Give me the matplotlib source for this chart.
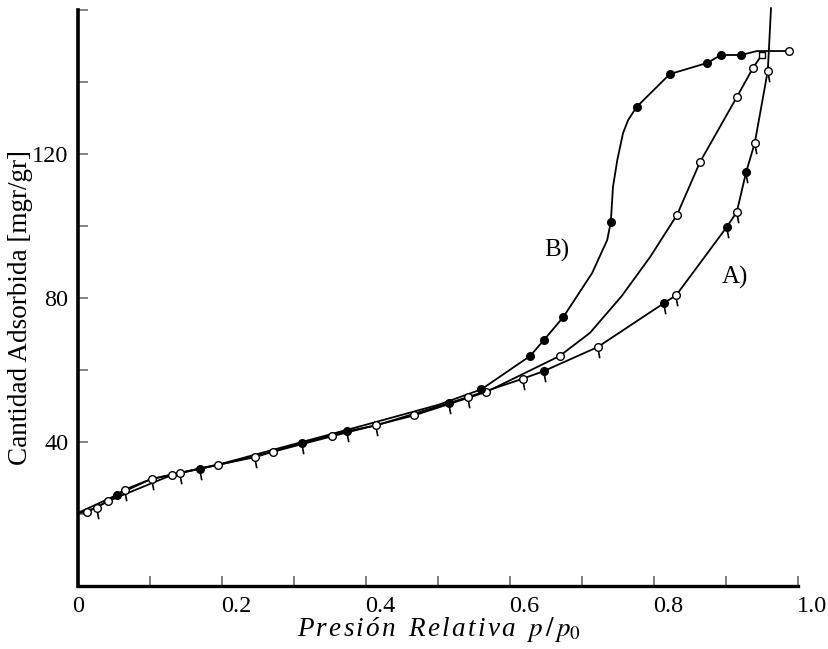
import numpy as np
import matplotlib.pyplot as plt
from matplotlib.path import Path
from matplotlib.transforms import ScaledTranslation

plt.rcParams['font.family'] = ['Liberation Serif', 'DejaVu Serif']
plt.rcParams['mathtext.fontset'] = 'stix'

# Curva A) - adsorcion (circulos abiertos con cola)
a_ads_x = [0.026, 0.065, 0.103, 0.142, 0.246, 0.414, 0.542, 0.618, 0.722, 0.831, 0.915, 0.940, 0.958]
a_ads_y = [21.7, 26.8, 29.8, 31.4, 35.8, 44.6, 52.5, 57.6, 66.4, 80.8, 103.9, 123.1, 143.1]
# Curva A) - desorcion (circulos llenos con cola)
a_des_x = [0.169, 0.311, 0.374, 0.515, 0.647, 0.814, 0.901, 0.928]
a_des_y = [32.6, 39.8, 43.0, 50.8, 59.7, 78.6, 99.7, 115.0]
# Curva B) - adsorcion (circulos abiertos)
b_ads_x = [0.0125, 0.042, 0.131, 0.194, 0.271, 0.353, 0.467, 0.567, 0.669, 0.832, 0.864, 0.915, 0.9375]
b_ads_y = [20.5, 23.6, 30.9, 33.6, 37.3, 41.6, 47.4, 53.9, 63.9, 103.1, 117.8, 135.8, 143.9]
# Curva B) - desorcion (circulos llenos)
b_des_x = [0.054, 0.560, 0.628, 0.647, 0.674, 0.740, 0.776, 0.822, 0.874, 0.893, 0.921]
b_des_y = [25.3, 54.6, 63.9, 68.3, 74.7, 101.1, 133.1, 142.2, 145.3, 147.5, 147.5]

# extra points (no markers there)
a_line_x = [0.0, 0.9595, 0.9625]
a_line_y = [20.3, 148.6, 160.5]
b_ads_line_x = [0.0, 0.711, 0.755, 0.795, 0.95]
b_ads_line_y = [20.3, 70.3, 80.5, 91.5, 147.6]
b_des_line_x = [0.0, 0.1, 0.2, 0.3, 0.4, 0.5, 0.714, 0.735, 0.743, 0.749, 0.757, 0.764, 0.943, 0.9875]
b_des_line_y = [20.3, 29.6, 34.0, 39.4, 44.8, 50.3, 86.9, 96.1, 110.8, 118.3, 125.8, 129.4, 148.6, 148.6]

# punto de saturacion
sat_x, sat_y = [0.95], [147.6]
end_x, end_y = [0.9875], [148.6]

x_ticks = [0, 0.1, 0.2, 0.3, 0.4, 0.5, 0.6, 0.7, 0.8, 0.9, 1.0]
x_labels = ['0', '', '0.2', '', '0.4', '', '0.6', '', '0.8', '', '1.0']
y_ticks = [20, 40, 60, 80, 100, 120, 140, 160]
y_labels = ['', '40', '', '80', '', '120', '', '']


def sorted_line(xs, ys):
    xs = np.array(xs)
    ys = np.array(ys)
    idx = np.argsort(xs)
    return xs[idx], ys[idx]


fig = plt.figure(figsize=(8.29, 6.49), dpi=100)
ax = fig.add_axes([78 / 829, 63 / 649, 720 / 829, 586 / 649])

lw = 1.3
lx, ly = sorted_line(a_ads_x + a_des_x + a_line_x, a_ads_y + a_des_y + a_line_y)
ax.plot(lx, ly, color='black', lw=lw, zorder=2, clip_on=False)
lx, ly = sorted_line(b_ads_x + b_ads_line_x, b_ads_y + b_ads_line_y)
ax.plot(lx, ly, color='black', lw=lw, zorder=2, clip_on=False)
lx, ly = sorted_line(b_des_x + b_des_line_x, b_des_y + b_des_line_y)
ax.plot(lx, ly, color='black', lw=lw, zorder=2, clip_on=False)

ms = 5.5
pip = Path([(0.0, -0.36), (0.12, -1.0)])

# open circles
ax.plot(a_ads_x, a_ads_y, ls='none', marker='o', ms=ms, mfc='white', mec='black', mew=1.0, zorder=3)
ax.plot(b_ads_x, b_ads_y, ls='none', marker='o', ms=ms, mfc='white', mec='black', mew=1.0, zorder=3)
ax.plot(end_x, end_y, ls='none', marker='o', ms=ms, mfc='white', mec='black', mew=1.0, zorder=3, clip_on=False)
ax.plot(sat_x, sat_y, ls='none', marker='s', ms=5, mfc='white', mec='black', mew=1.0, zorder=3)
# filled circles
ax.plot(a_des_x, a_des_y, ls='none', marker='o', ms=ms, mfc='black', mec='black', zorder=3)
ax.plot(b_des_x, b_des_y, ls='none', marker='o', ms=ms, mfc='black', mec='black', zorder=3)
# tails for series A
ax.plot(a_ads_x + a_des_x, a_ads_y + a_des_y, ls='none', marker=pip, ms=15.5,
        mfc='none', mec='black', mew=1.2, zorder=4)

ax.text(0.665, 93.3, 'B)', fontsize=18, ha='center', va='center')
ax.text(0.9125, 85.6, 'A)', fontsize=18, ha='center', va='center')

ax.set_xlim(0, 1.0)
ax.set_ylim(0, 586 / 3.6)
ax.spines['top'].set_visible(False)
ax.spines['right'].set_visible(False)
ax.spines['left'].set_linewidth(2.6)
ax.spines['bottom'].set_linewidth(2.4)
ax.spines['left'].set_bounds(0, 160)
ax.spines['bottom'].set_bounds(0, 1.0)

ax.set_xticks(x_ticks, labels=x_labels)
ax.set_yticks(y_ticks, labels=y_labels)
ax.tick_params(direction='in', length=7, width=1.4, color='#808080', labelsize=17.5, pad=7)

offset = ScaledTranslation(14 / 100, 0, fig.dpi_scale_trans)
for lab in ax.get_xticklabels()[1:]:
    lab.set_transform(lab.get_transform() + offset)

ax.set_ylabel('Cantidad Adsorbida [mgr/gr]', fontsize=19.5)
ax.yaxis.set_label_coords(-0.062, 0.476)
xlabel = '\u200a'.join('Presión') + '  ' + '\u200a'.join('Relativa') + '  $p\\,/\\,p_0$'
ax.set_xlabel(xlabel, fontsize=19.5, style='italic')
ax.xaxis.set_label_coords(0.501, -0.05)

fig.savefig('out.png', dpi=100)
